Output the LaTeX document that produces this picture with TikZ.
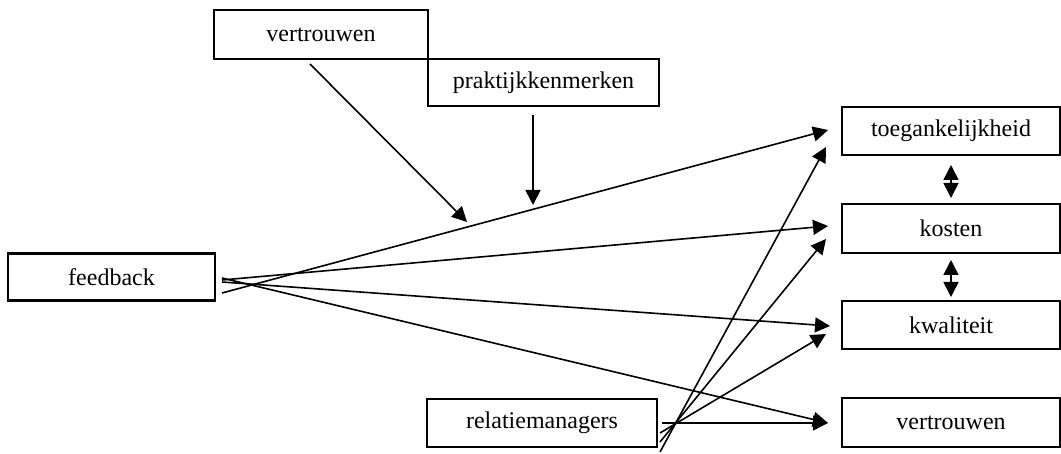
\documentclass[tikz,border=0pt]{standalone}
\usepackage{fontspec}
\setmainfont{Liberation Serif}
\usetikzlibrary{arrows.meta}
\begin{document}
\begin{tikzpicture}[x=0.5pt,y=-0.5pt]
\tikzset{ >={Triangle[length=7.5pt,width=7.5pt]}, inner sep=0pt, outer sep=0pt,
  box/.style={draw, line width=1.3pt, font=\fontsize{12}{14}\selectfont},
  pijl/.style={->, line width=0.8pt},
}
\useasboundingbox (0,0) rectangle (1061,454);

%\draw [lightgray, dashed](0,0) grid [step=50] (1061,454);

\node [box, minimum width=107pt, minimum height=24.5pt] (VT) at (321,34.5) {vertrouwen};
\node [box, minimum width=115.5pt, minimum height=23.5pt] (P) at (543.5,82.5) {praktijkkenmerken};
\node [box, minimum width=103.5pt, minimum height=23.5pt] (F) at (111.5,277) {feedback};
\node [box, minimum width=115pt, minimum height=24pt] (R) at (542,423) {relatiemanagers};

\node [box, minimum width=109pt, minimum height=24pt] (T) at (951,131) {toegankelijkheid};
\node [box, minimum width=109pt, minimum height=24.5pt] (K) at (951,228.5) {kosten};
\node [box, minimum width=109pt, minimum height=24pt] (Q) at (951,325) {kwaliteit};
\node [box, minimum width=109pt, minimum height=24.5pt] (V) at (951,422.5) {vertrouwen};

% losse eindpunten
\coordinate (vt1) at (310,64);   \coordinate (vt2) at (467,222);
\coordinate (p1)  at (533,115);  \coordinate (p2)  at (533,205);
\coordinate (f1)  at (222,293);  \coordinate (f2)  at (222,280);
\coordinate (f3)  at (222,282);  \coordinate (f4)  at (222,278);
\coordinate (r1)  at (662,423);  \coordinate (r2)  at (660,433);
\coordinate (r3)  at (660,442);  \coordinate (r4)  at (660,452);
\coordinate (ta)  at (828,130);  \coordinate (tb)  at (826,147);
\coordinate (ka)  at (828,226);  \coordinate (kb)  at (826,239);
\coordinate (qa)  at (830,326);  \coordinate (qb)  at (826,334);
\coordinate (va)  at (828,423);

\draw [pijl] (vt1) -- (vt2);
\draw [pijl] (p1)  -- (p2);

\draw [pijl] (f1) -- (ta);
\draw [pijl] (f2) -- (ka);
\draw [pijl] (f3) -- (qa);
\draw [pijl] (f4) -- (va);

\draw [pijl] (r1) -- (va);
\draw [pijl] (r2) -- (qb);
\draw [pijl] (r3) -- (kb);
\draw [pijl] (r4) -- (tb);

\draw [<->, line width=0.8pt] ([yshift=-5pt]T.south) -- ([yshift=3pt]K.north);
\draw [<->, line width=0.8pt] ([yshift=-3.5pt]K.south) -- ([yshift=2pt]Q.north);
\end{tikzpicture}
\end{document}
